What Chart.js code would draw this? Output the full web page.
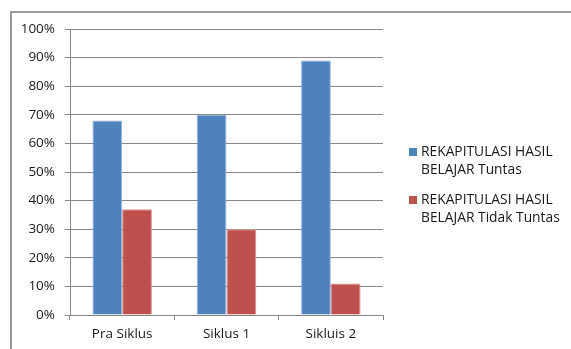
<!DOCTYPE html>
<html>
<head>
<meta charset="utf-8">
<script src="https://cdn.jsdelivr.net/npm/chart.js@4/dist/chart.umd.min.js"></script>
<style>
  html, body { margin: 0; padding: 0; background: #fff; overflow: hidden; }
  #wrap { position: relative; width: 571px; height: 349px; }
  #frame {
    position: absolute; left: 10px; top: 11px; width: 600px; height: 400px;
    border-top: 2px solid #9a9a9a; border-left: 2px solid #9a9a9a;
  }
  canvas { position: absolute; left: 0; top: 0; }
</style>
</head>
<body>
<div id="wrap">
  <div id="frame"></div>
  <canvas id="chart" width="571" height="349"></canvas>
</div>
<script>
// data
const categories = ['Pra Siklus', 'Siklus 1', 'Sikluis 2'];
const tuntas = [68, 70, 89];
const tidakTuntas = [37, 30, 11];
const seriesNames = [
  ['REKAPITULASI HASIL', 'BELAJAR Tuntas'],
  ['REKAPITULASI HASIL', 'BELAJAR Tidak Tuntas']
];
const yTicks = [0, 10, 20, 30, 40, 50, 60, 70, 80, 90, 100];

const FONT = '"Open Sans", sans-serif';

// legend on the right, two lines per entry
const sideLegend = {
  id: 'sideLegend',
  afterDraw(chart) {
    const c = chart.ctx;
    c.save();
    c.font = '13.8px ' + FONT;
    c.textBaseline = 'middle';
    const tops = [152, 200];
    chart.data.datasets.forEach((ds, i) => {
      const y = tops[i];
      c.fillStyle = ds.backgroundColor;
      c.fillRect(409, y - 4, 8, 8);
      c.fillStyle = '#1a1a1a';
      seriesNames[i].forEach((line, j) => {
        c.fillText(line, 421, y + j * 18);
      });
    });
    c.restore();
  }
};

const ctx = document.getElementById('chart').getContext('2d');
const chart = new Chart(ctx, {
  type: 'bar',
  data: {
    labels: categories,
    datasets: [{
      label: seriesNames[0].join(' '),
      data: tuntas,
      backgroundColor: '#4f81bd',
      borderColor: '#8fb0da',
      borderWidth: 1,
      categoryPercentage: 0.57,
      barPercentage: 1
    }, {
      label: seriesNames[1].join(' '),
      data: tidakTuntas,
      backgroundColor: '#c0504d',
      borderColor: '#d98f8d',
      borderWidth: 1,
      categoryPercentage: 0.57,
      barPercentage: 1
    }]
  },
  options: {
    responsive: false,
    animation: false,
    layout: { padding: { top: 29, right: 188, left: 0, bottom: 0 } },
    plugins: { legend: { display: false }, tooltip: { enabled: false } },
    scales: {
      x: {
        afterFit: s => { s.height = 34; },
        grid: { offset: true, drawOnChartArea: false, tickLength: 5, color: '#868686' },
        border: { color: '#868686' },
        ticks: { padding: 6, color: '#1a1a1a', font: { family: FONT, size: 13.5 } }
      },
      y: {
        min: 0,
        max: 100,
        afterFit: s => { s.width = 70; },
        afterBuildTicks: s => { s.ticks = yTicks.map(v => ({ value: v })); },
        grid: { color: '#868686', tickLength: 5 },
        border: { color: '#868686' },
        ticks: {
          padding: 10,
          color: '#1a1a1a',
          font: { family: FONT, size: 13.5 },
          callback: v => v + '%'
        }
      }
    }
  },
  plugins: [sideLegend]
});
</script>
</body>
</html>
